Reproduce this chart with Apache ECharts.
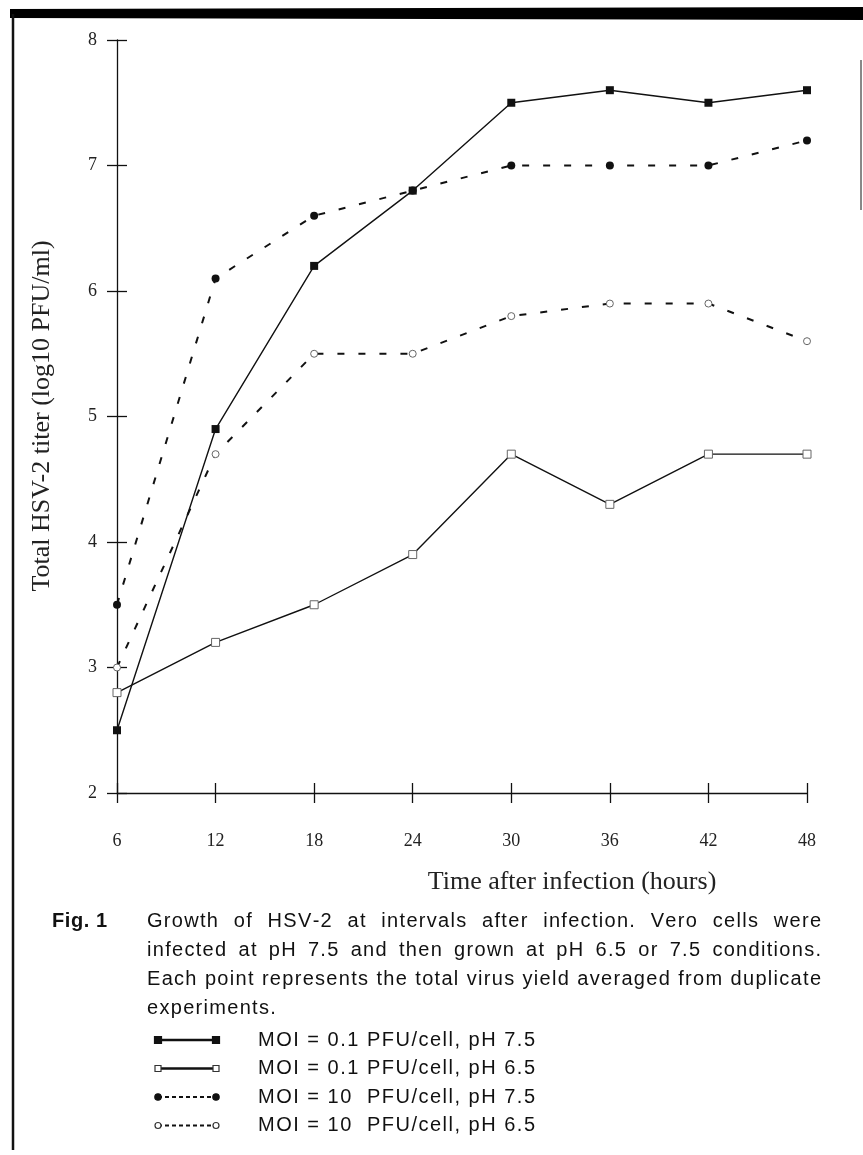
<!DOCTYPE html>
<html>
<head>
<meta charset="utf-8">
<script src="https://cdn.jsdelivr.net/npm/echarts@6/dist/echarts.min.js"></script>
<style>
  html, body { margin: 0; padding: 0; background: #fff; }
  #chart { width: 863px; height: 1155px; }
</style>
</head>
<body>
<div id="chart"></div>
<script>
// ---- data ----
const hours = [6, 12, 18, 24, 30, 36, 42, 48];
const moi01_pH75 = [2.5, 4.9, 6.2, 6.8, 7.5, 7.6, 7.5, 7.6];
const moi01_pH65 = [2.8, 3.2, 3.5, 3.9, 4.7, 4.3, 4.7, 4.7];
const moi10_pH75 = [3.5, 6.1, 6.6, 6.8, 7.0, 7.0, 7.0, 7.2];
const moi10_pH65 = [3.0, 4.7, 5.5, 5.5, 5.8, 5.9, 5.9, 5.6];
const seriesNames = [
  'MOI = 0.1 PFU/cell, pH 7.5',
  'MOI = 0.1 PFU/cell, pH 6.5',
  'MOI = 10  PFU/cell, pH 7.5',
  'MOI = 10  PFU/cell, pH 6.5'
];
const yTitle = 'Total HSV-2 titer (log10 PFU/ml)';
const xTitle = 'Time after infection (hours)';
const figLabel = 'Fig. 1';
const captionLines = [
  'Growth of HSV-2 at intervals after infection.  Vero cells were',
  'infected at pH 7.5 and then grown at pH 6.5 or 7.5 conditions.',
  'Each point represents the total virus yield averaged from duplicate',
  'experiments.'
];

const chart = echarts.init(document.getElementById('chart'), null, { renderer: 'canvas' });

const serifFont = '"Liberation Serif", "DejaVu Serif", serif';
const sansFont = '"Liberation Sans", Arial, sans-serif';

function pairs(vals) { return hours.map((h, i) => [h, vals[i]]); }

const measureCtx = document.createElement('canvas').getContext('2d');
const graphics = [];

// place a string char by char with letter spacing
function wordWidth(word, font, ls) {
  measureCtx.font = font;
  let w = 0;
  for (const ch of word) w += measureCtx.measureText(ch).width + ls;
  return w - ls;
}
function placeWord(word, x, y, font, ls, fill) {
  measureCtx.font = font;
  let cx = x;
  for (const ch of word) {
    graphics.push({ type: 'text', x: cx, y: y, silent: true,
      style: { text: ch, font: font, fill: fill, verticalAlign: 'middle' } });
    cx += measureCtx.measureText(ch).width + ls;
  }
  return cx - ls;
}
function placeLine(line, x, y, font, ls, fill, justifyTo) {
  const words = line.split(/\s+/);
  const widths = words.map(w => wordWidth(w, font, ls));
  measureCtx.font = font;
  let gap = measureCtx.measureText(' ').width + 2 * ls;
  if (justifyTo) {
    const total = widths.reduce((a, b) => a + b, 0);
    gap = (justifyTo - x - total) / (words.length - 1);
  }
  let cx = x;
  words.forEach((w, i) => { placeWord(w, cx, y, font, ls, fill); cx += widths[i] + gap; });
}
function placeRaw(str, x, y, font, ls, fill) {
  // keeps every space (for legend alignment)
  measureCtx.font = font;
  let cx = x;
  for (const ch of str) {
    if (ch !== ' ') graphics.push({ type: 'text', x: cx, y: y, silent: true,
      style: { text: ch, font: font, fill: fill, verticalAlign: 'middle' } });
    cx += measureCtx.measureText(ch).width + ls;
  }
}

const capFont = '20px ' + sansFont;
const capLS = 1.3;
const capLeft = 147, capRight = 821, capTop = 921, capStep = 29;
captionLines.forEach((line, li) => {
  const y = capTop + li * capStep;
  const last = li === captionLines.length - 1;
  placeLine(line, capLeft, y, capFont, capLS, '#111', last ? null : capRight);
});
placeWord(figLabel, 52, capTop, 'bold 20px ' + sansFont, 0.6, '#111');

// axis titles
graphics.push({ type: 'text', x: 42, y: 416, rotation: Math.PI / 2, style: { text: yTitle, font: '26px ' + serifFont, fill: '#222', align: 'center', verticalAlign: 'middle' } });
graphics.push({ type: 'text', x: 572, y: 882, style: { text: xTitle, font: '26px ' + serifFont, fill: '#222', align: 'center', verticalAlign: 'middle' } });

// legend samples
const legendTop = 1040, legendStep = 28.5;
const legendStyles = [
  { dash: null, sym: 'rect', fill: '#111', stroke: '#111', r: 3.5 },
  { dash: null, sym: 'rect', fill: '#fff', stroke: '#333', r: 3 },
  { dash: [4, 3], sym: 'circle', fill: '#111', stroke: '#111', r: 3.2 },
  { dash: [4, 3], sym: 'circle', fill: '#fff', stroke: '#333', r: 3 }
];
seriesNames.forEach((name, i) => {
  const y = legendTop + i * legendStep;
  const s = legendStyles[i];
  graphics.push({ type: 'line', shape: { x1: 158, y1: y, x2: 216, y2: y }, style: { stroke: '#111', lineWidth: s.dash ? 1.8 : 2.4, lineDash: s.dash } });
  [158, 216].forEach(cx => {
    if (s.sym === 'rect') {
      graphics.push({ type: 'rect', shape: { x: cx - s.r, y: y - s.r, width: 2 * s.r, height: 2 * s.r }, style: { fill: s.fill, stroke: s.stroke, lineWidth: 1.2 } });
    } else {
      graphics.push({ type: 'circle', shape: { cx: cx, cy: y, r: s.r }, style: { fill: s.fill, stroke: s.stroke, lineWidth: 1.2 } });
    }
  });
  placeRaw(name, 258, y, capFont, 1.5, '#111');
});

// scan frame
graphics.push({ type: 'polygon', shape: { points: [[10, 9], [863, 7], [863, 20], [10, 18]] }, style: { fill: '#000' } });
graphics.push({ type: 'line', shape: { x1: 13, y1: 14, x2: 13, y2: 1150 }, style: { stroke: '#111', lineWidth: 2.5 } });
graphics.push({ type: 'line', shape: { x1: 861, y1: 60, x2: 861, y2: 210 }, style: { stroke: '#888', lineWidth: 2 } });

const axisLineStyle = { color: '#111', width: 1.3 };

const option = {
  backgroundColor: '#fff',
  animation: false,
  grid: { left: 117, right: 56, top: 40, bottom: 362, containLabel: false },
  xAxis: [
    {
      type: 'value', min: 6, max: 48, interval: 6, position: 'bottom',
      axisLine: { show: true, lineStyle: axisLineStyle },
      axisTick: { show: true, inside: false, length: 10, lineStyle: axisLineStyle },
      axisLabel: { show: true, margin: 39, fontFamily: serifFont, fontSize: 18, color: '#222' },
      splitLine: { show: false }
    },
    {
      type: 'value', min: 6, max: 48, interval: 6, position: 'bottom',
      axisLine: { show: false },
      axisTick: { show: true, inside: true, length: 10, lineStyle: axisLineStyle },
      axisLabel: { show: false },
      splitLine: { show: false }
    }
  ],
  yAxis: [
    {
      type: 'value', min: 2, max: 8, interval: 1, position: 'left',
      axisLine: { show: true, lineStyle: axisLineStyle },
      axisTick: { show: true, inside: false, length: 10, lineStyle: axisLineStyle },
      axisLabel: { show: true, margin: 20, fontFamily: serifFont, fontSize: 18, color: '#222' },
      splitLine: { show: false }
    },
    {
      type: 'value', min: 2, max: 8, interval: 1, position: 'left',
      axisLine: { show: false },
      axisTick: { show: true, inside: true, length: 10, lineStyle: axisLineStyle },
      axisLabel: { show: false },
      splitLine: { show: false }
    }
  ],
  graphic: graphics,
  series: [
    {
      name: seriesNames[0], type: 'line', data: pairs(moi01_pH75),
      symbol: 'rect', symbolSize: 8,
      lineStyle: { color: '#111', width: 1.4 },
      itemStyle: { color: '#111', borderColor: '#111', borderWidth: 0 }, z: 4
    },
    {
      name: seriesNames[1], type: 'line', data: pairs(moi01_pH65),
      symbol: 'rect', symbolSize: 8,
      lineStyle: { color: '#111', width: 1.4 },
      itemStyle: { color: '#fff', borderColor: '#666', borderWidth: 1 }, z: 3
    },
    {
      name: seriesNames[2], type: 'line', data: pairs(moi10_pH75),
      symbol: 'circle', symbolSize: 8,
      lineStyle: { color: '#111', width: 2, type: [7, 14] },
      itemStyle: { color: '#111', borderColor: '#111', borderWidth: 0 }, z: 3
    },
    {
      name: seriesNames[3], type: 'line', data: pairs(moi10_pH65),
      symbol: 'circle', symbolSize: 7,
      lineStyle: { color: '#111', width: 2, type: [7, 14] },
      itemStyle: { color: '#fff', borderColor: '#666', borderWidth: 1 }, z: 3
    }
  ]
};
chart.setOption(option);
</script>
</body>
</html>
